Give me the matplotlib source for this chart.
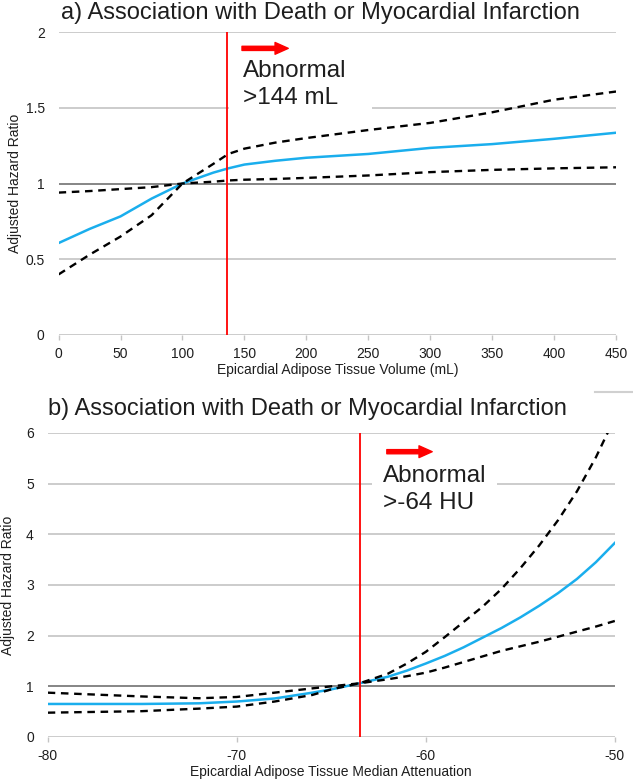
import numpy as np
import matplotlib
matplotlib.use("Agg")
import matplotlib.pyplot as plt
from matplotlib.lines import Line2D
from matplotlib.patches import Rectangle

plt.rcParams["font.family"] = ["Liberation Sans", "DejaVu Sans"]
plt.rcParams["axes.unicode_minus"] = False

# panel a: epicardial adipose tissue volume (mL)
vol_x = [0, 25, 50, 75, 100, 125, 137, 150, 175, 200, 250, 300, 350, 400, 450]
vol_hr = [0.607, 0.70, 0.783, 0.90, 1.0, 1.072, 1.10, 1.125, 1.15, 1.17, 1.195, 1.235, 1.26, 1.295, 1.335]
vol_ci_hi = [0.40, 0.53, 0.65, 0.79, 1.0, 1.13, 1.195, 1.23, 1.27, 1.30, 1.353, 1.40, 1.47, 1.553, 1.607]
vol_ci_lo = [0.94, 0.95, 0.963, 0.976, 1.0, 1.012, 1.02, 1.025, 1.03, 1.037, 1.053, 1.075, 1.09, 1.10, 1.107]
vol_cut = 136
vol_ticks = [0, 50, 100, 150, 200, 250, 300, 350, 400, 450]
vol_yticks = [0, 0.5, 1, 1.5, 2]
vol_yticklabels = ["0", "0.5", "1", "1.5", "2"]

# panel b: median attenuation (HU)
hu_x = [-80, -75, -72, -70, -68, -66, -65, -63.5, -62, -61, -60, -59, -58, -57, -56, -55, -54, -53, -52, -51, -50]
hu_hr = [0.652, 0.652, 0.665, 0.70, 0.76, 0.875, 0.94, 1.06, 1.19, 1.31, 1.45, 1.60, 1.77, 1.96, 2.15, 2.36, 2.59, 2.84, 3.12, 3.45, 3.83]
hu_ci_hi = [0.48, 0.51, 0.56, 0.60, 0.70, 0.83, 0.94, 1.06, 1.25, 1.45, 1.68, 1.97, 2.27, 2.57, 2.92, 3.33, 3.78, 4.28, 4.85, 5.52, 6.30]
hu_ci_lo = [0.875, 0.80, 0.765, 0.79, 0.875, 0.96, 1.0, 1.06, 1.14, 1.20, 1.27, 1.37, 1.48, 1.59, 1.70, 1.79, 1.88, 1.98, 2.08, 2.18, 2.29]
hu_cut = -63.5
hu_ticks = [-80, -70, -60, -50]
hu_yticks = [0, 1, 2, 3, 4, 5, 6]

BLUE = "#1aaeed"
GRID = "#c4c4c4"
ONE = "#858585"
TXT = "#1e1e1e"

W, H = 633, 781
fig = plt.figure(figsize=(W / 100, H / 100), dpi=100)


def px_axes(l, r, t, b):
    return fig.add_axes([l / W, 1 - b / H, (r - l) / W, (b - t) / H])


def style(ax, yticks, ylabels):
    for s in ax.spines.values():
        s.set_visible(False)
    ax.set_yticks(yticks)
    ax.set_yticklabels(ylabels)
    ax.tick_params(labelsize=10, labelcolor=TXT)
    ax.tick_params(axis="y", length=0, pad=10)
    ax.tick_params(axis="x", length=3.5, width=1.0, color=GRID, pad=5)
    for v in yticks:
        if v == 1:
            ax.axhline(v, color=ONE, lw=1.4, zorder=1)
        else:
            ax.axhline(v, color=GRID, lw=1.2, zorder=1)


def curves(ax, x, hr, hi, lo):
    ax.plot(x, hr, color=BLUE, lw=1.8, zorder=4)
    ax.plot(x, hi, color="black", lw=1.7, dashes=(3.2, 2.4), zorder=4)
    ax.plot(x, lo, color="black", lw=1.7, dashes=(3.2, 2.4), zorder=4)


def note(ax, box, line1, line2, tx, ty1, ty2, arrow):
    ax.add_patch(Rectangle((box[0], box[1]), box[2] - box[0], box[3] - box[1],
                           transform=ax.transAxes, facecolor="white",
                           edgecolor="none", zorder=2))
    ax.text(tx, ty1, line1, transform=ax.transAxes, fontsize=17.5, va="baseline", zorder=6, color=TXT)
    ax.text(tx, ty2, line2, transform=ax.transAxes, fontsize=17.5, va="baseline", zorder=6, color=TXT)
    ax.annotate("", xy=(arrow[1], arrow[2]), xytext=(arrow[0], arrow[2]),
                xycoords="axes fraction", textcoords="axes fraction",
                arrowprops=dict(arrowstyle="simple,head_length=0.95,head_width=0.85,tail_width=0.3",
                                color="#ff0000", shrinkA=0, shrinkB=0), zorder=6)


# ---- panel a
ax1 = px_axes(58.6, 616, 32, 335)
style(ax1, vol_yticks, vol_yticklabels)
curves(ax1, vol_x, vol_hr, vol_ci_hi, vol_ci_lo)
ax1.axvline(vol_cut, color="#ff0000", lw=1.3, zorder=5)
ax1.set_xlim(0, 450)
ax1.set_ylim(0, 2)
ax1.set_xticks(vol_ticks)
ax1.set_xlabel("Epicardial Adipose Tissue Volume (mL)", fontsize=10, color=TXT)
ax1.xaxis.label.set_va("center")
ax1.xaxis.set_label_coords(0.5, -0.1155)
ax1.set_ylabel("Adjusted Hazard Ratio", fontsize=10, color=TXT)
ax1.yaxis.label.set_va("center")
ax1.yaxis.set_label_coords(-0.0775, 0.5)
note(ax1, (0.305, 0.726, 0.562, 0.93), "Abnormal", ">144 mL",
     0.331, 0.851, 0.761, (0.329, 0.412, 0.946))
fig.text(60.6 / W, 1 - 19 / H, "a) Association with Death or Myocardial Infarction",
         fontsize=17, va="baseline", color=TXT)

# ---- panel b
ax2 = px_axes(47.7, 614.8, 433, 737)
style(ax2, hu_yticks, [str(v) for v in hu_yticks])
curves(ax2, hu_x, hu_hr, hu_ci_hi, hu_ci_lo)
ax2.axvline(hu_cut, color="#ff0000", lw=1.3, zorder=5)
ax2.set_xlim(-80, -50)
ax2.set_ylim(0, 6)
ax2.set_xticks(hu_ticks)
ax2.set_xlabel("Epicardial Adipose Tissue Median Attenuation", fontsize=10, color=TXT)
ax2.xaxis.label.set_va("center")
ax2.xaxis.set_label_coords(0.5, -0.115)
ax2.set_ylabel("Adjusted Hazard Ratio", fontsize=10, color=TXT)
ax2.yaxis.label.set_va("center")
ax2.yaxis.set_label_coords(-0.07, 0.5)
note(ax2, (0.572, 0.714, 0.792, 0.905), "Abnormal", ">-64 HU",
     0.591, 0.840, 0.750, (0.598, 0.678, 0.9385))
fig.text(47.7 / W, 1 - 415 / H, "b) Association with Death or Myocardial Infarction",
         fontsize=17, va="baseline", color=TXT)

# small stray rule at the top right of panel b
fig.add_artist(Line2D([595 / W, 1.0], [1 - 391.7 / H] * 2, color="#d0d0d0", lw=1.5))

fig.savefig("out.png", dpi=100)
